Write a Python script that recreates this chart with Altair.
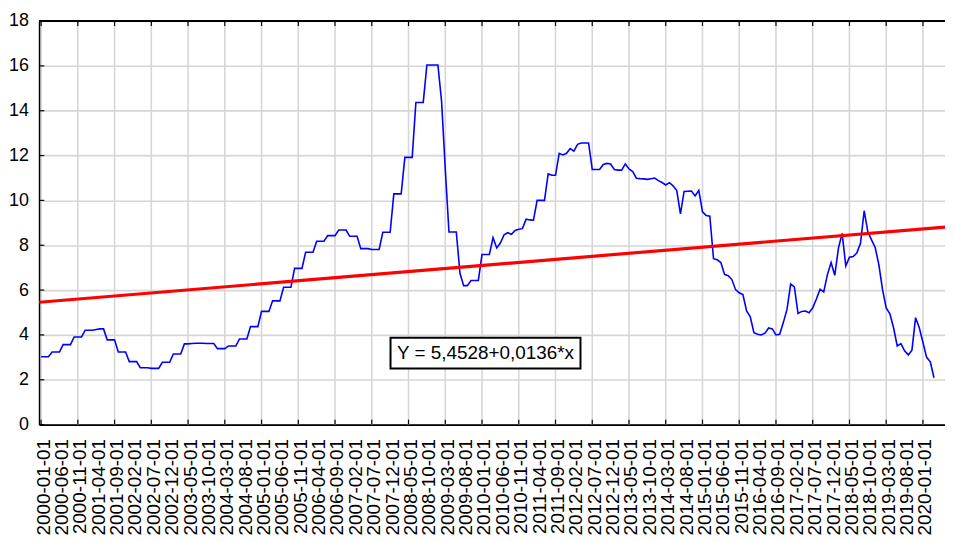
import json
import altair as alt
import pandas as pd

# Monthly values, 2000-01 .. 2020-04 (case numbers 1..244)
values = [
    3.03, 3.03, 3.03, 3.24, 3.24, 3.24, 3.57, 3.57, 3.57, 3.91, 3.91, 3.91,
    4.21, 4.21, 4.21, 4.24, 4.27, 4.27, 3.78, 3.78, 3.78, 3.24, 3.24, 3.24,
    2.81, 2.81, 2.81, 2.54, 2.54, 2.54, 2.51, 2.51, 2.51, 2.78, 2.78, 2.78,
    3.15, 3.15, 3.15, 3.60, 3.60, 3.62, 3.63, 3.63, 3.63, 3.62, 3.62, 3.62,
    3.39, 3.39, 3.39, 3.51, 3.51, 3.51, 3.82, 3.82, 3.82, 4.37, 4.37, 4.37,
    5.05, 5.05, 5.05, 5.52, 5.52, 5.52, 6.13, 6.13, 6.13, 6.97, 6.97, 6.97,
    7.69, 7.69, 7.69, 8.18, 8.18, 8.18, 8.43, 8.43, 8.43, 8.68, 8.68, 8.68,
    8.40, 8.40, 8.40, 7.85, 7.85, 7.85, 7.81, 7.81, 7.81, 8.58, 8.58, 8.58,
    10.29, 10.29, 10.29, 11.92, 11.92, 11.92, 14.37, 14.37, 14.37, 16.04, 16.04, 16.04,
    16.04, 14.4, 11.4, 8.59, 8.59, 8.59, 6.75, 6.2, 6.2, 6.43, 6.43, 6.43,
    7.59, 7.59, 7.59, 8.34, 7.88, 8.1, 8.47, 8.56, 8.49, 8.66, 8.71, 8.74,
    9.16, 9.13, 9.12, 10.0, 10.0, 10.0, 11.18, 11.12, 11.12, 12.1, 12.03, 12.1,
    12.31, 12.2, 12.5, 12.56, 12.56, 12.56, 11.38, 11.38, 11.38, 11.6, 11.65, 11.62,
    11.38, 11.35, 11.35, 11.63, 11.4, 11.29, 10.99, 10.97, 10.96, 10.94, 10.97, 11.0,
    10.88, 10.8, 10.69, 10.79, 10.65, 10.44, 9.4, 10.4, 10.41, 10.42, 10.2, 10.45,
    9.49, 9.33, 9.3, 7.4, 7.35, 7.23, 6.7, 6.64, 6.47, 6.02, 5.88, 5.8,
    5.07, 4.81, 4.1, 4.03, 4.0, 4.08, 4.31, 4.27, 4.0, 4.03, 4.55, 5.14,
    6.27, 6.14, 4.96, 5.05, 5.07, 4.99, 5.21, 5.6, 6.04, 5.92, 6.69, 7.23,
    6.66, 7.87, 8.53, 7.08, 7.47, 7.5, 7.65, 8.09, 9.54, 8.6, 8.24, 7.9,
    7.13, 6.02, 5.2, 4.94, 4.32, 3.51, 3.61, 3.29, 3.11, 3.32, 4.77, 4.32,
    3.66, 3.0, 2.8, 2.09,
]
N = len(values)
case = list(range(1, N + 1))
dates = [f"{2000 + i // 12}-{i % 12 + 1:02d}-01" for i in range(N)]

tick_cases = case[::5]          # labelled ticks every 5 months
tick_labels = dates[::5]
grid_cases = case[::10]         # grid lines every 10 months
y_ticks = list(range(0, 19, 2))

intercept = 5.4528
slope = 0.0136
x_domain = [0.51, 247.0]
fit_x = x_domain
fit_y = [intercept + slope * x for x in fit_x]

eq_text = "Y = 5,4528+0,0136*x"
eq_x = [96.1, 147.8]
eq_y = [2.50, 3.88]

W = 912
H = 406.4
FONT = "Liberation Sans, Arial, sans-serif"

df = pd.DataFrame({"c": case, "v": values, "date": dates})
grid_df = pd.DataFrame({"c": grid_cases})
ytick_df = pd.DataFrame({"v": y_ticks})
fit_df = pd.DataFrame({"c": fit_x, "v": fit_y})
eq_df = pd.DataFrame({"x0": [eq_x[0]], "x1": [eq_x[1]], "y0": [eq_y[0]], "y1": [eq_y[1]],
                      "xm": [(eq_x[0] + eq_x[1]) / 2], "ym": [(eq_y[0] + eq_y[1]) / 2],
                      "t": [eq_text]})

xscale = alt.Scale(domain=x_domain, nice=False, zero=False)
yscale = alt.Scale(domain=[0, 18], nice=False, zero=False)

label_expr = f"{json.dumps(tick_labels)}[indexof({json.dumps(tick_cases)}, datum.value)]"

xaxis = alt.Axis(values=tick_cases, labelExpr=label_expr, labelAngle=-90,
                 labelAlign="right", labelBaseline="middle",
                 grid=False, ticks=False, tickSize=0, domainColor="black", domainWidth=2,
                 labelFont=FONT, labelFontSize=19, labelColor="black", labelPadding=14,
                 labelOffset=2, labelOverlap=False, labelBound=False, labelFlush=False,
                 title=None)
yaxis = alt.Axis(values=y_ticks, grid=True, gridColor="#d6d6d6", gridWidth=1.6,
                 ticks=False, tickSize=0, domainColor="black", domainWidth=2,
                 labelFont=FONT, labelFontSize=18, labelColor="black", labelPadding=11,
                 labelOverlap=False, labelFlush=False, title=None)


def X(field):
    return alt.X(field, type="quantitative", scale=xscale, axis=xaxis)


def Y(field):
    return alt.Y(field, type="quantitative", scale=yscale, axis=yaxis)


vgrid = alt.Chart(grid_df).mark_rule(color="#d6d6d6", strokeWidth=1.6).encode(x=X("c"))
left_ticks = alt.Chart(ytick_df).mark_rule(color="black", strokeWidth=1.2).encode(
    y=Y("v"), x=alt.value(0), x2=alt.value(5)
)
line = alt.Chart(df).mark_line(color="#0000ff", strokeWidth=1.6).encode(x=X("c"), y=Y("v"))
bottom_ticks = alt.Chart(grid_df).mark_rule(color="black", strokeWidth=1.2).encode(
    x=X("c"), y=alt.value(H), y2=alt.value(H - 5)
)
top_ticks = alt.Chart(grid_df).mark_rule(color="black", strokeWidth=1.2).encode(
    x=X("c"), y=alt.value(0), y2=alt.value(5)
)
top_border = alt.Chart(grid_df).mark_rule(color="black", strokeWidth=2).encode(
    x=alt.value(0), x2=alt.value(W), y=alt.value(0)
)
fit = alt.Chart(fit_df).mark_line(color="#ff0000", strokeWidth=3.2).encode(x=X("c"), y=Y("v"))
eq_box = alt.Chart(eq_df).mark_rect(fill="white", stroke="black", strokeWidth=2).encode(
    x=X("x0"), x2="x1:Q", y=Y("y0"), y2="y1:Q",
)
eq_label = alt.Chart(eq_df).mark_text(font=FONT, fontSize=19, color="black",
                                      align="center", baseline="middle").encode(
    x=X("xm"), y=Y("ym"), text="t:N"
)

chart = alt.layer(
    vgrid, left_ticks, line, fit, bottom_ticks, top_ticks, top_border,
    eq_box, eq_label
).properties(
    width=W, height=H,
    padding={"left": 31.5, "top": 11.3, "right": 0, "bottom": 109},
    autosize=alt.AutoSizeParams(type="none"),
    background="white",
).configure_view(stroke=None).configure_axis(labelOverlap=False)

chart.save("out.html", embed_options={"renderer": "svg", "actions": False})
